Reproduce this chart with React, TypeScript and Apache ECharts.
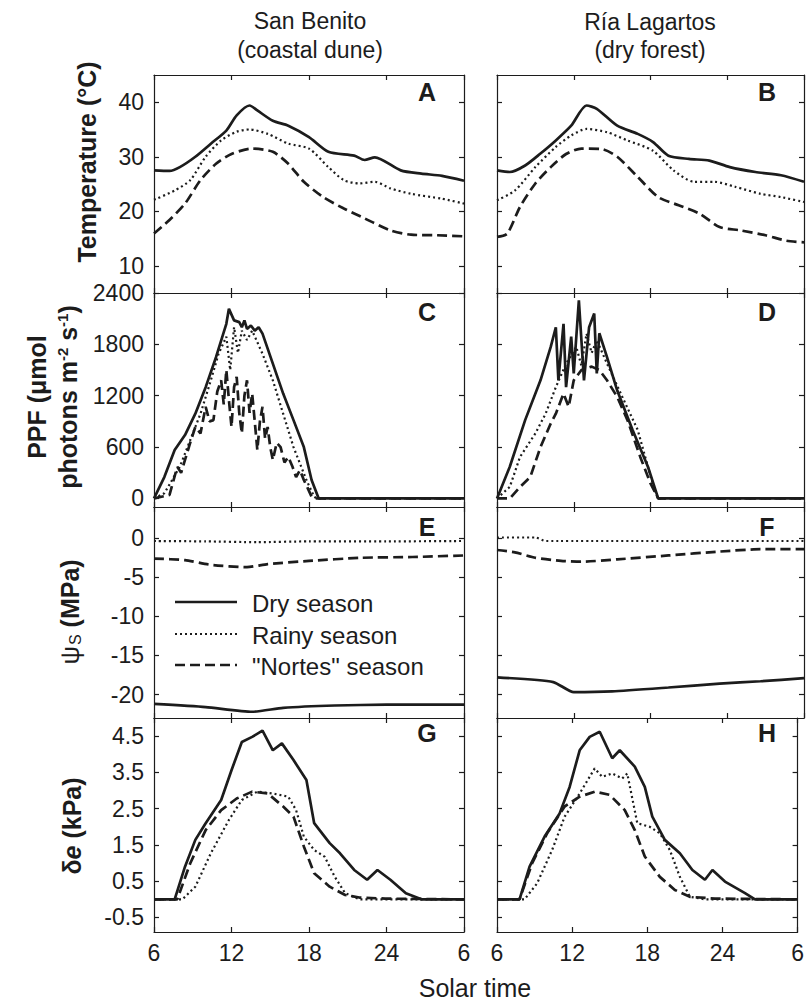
import React, { useEffect, useRef } from "react";
import * as echarts from "echarts";

const FONT = "'Liberation Sans', Arial, Helvetica, sans-serif";
const INK = "#1c1c1c";

const xTicks = [6, 12, 18, 24, 30];
const tempTicks = [10, 20, 30, 40];
const ppfTicks = [0, 600, 1200, 1800, 2400];
const psiTicks = [-20, -15, -10, -5, 0];
const vpdTicks = [-0.5, 0.5, 1.5, 2.5, 3.5, 4.5];

const seasons = ["Dry season", "Rainy season", "\"Nortes\" season"];

// Air temperature (°C) — San Benito
const tempDrySB = [[6,27.5],[7.2,27.4],[8,28.1],[9.2,30],[10.4,32.4],[11.6,34.8],[12.4,37.6],[13.4,39.4],[14,38.5],[15.2,36.6],[16.4,35.7],[18,33.6],[19.5,30.9],[21.5,30.2],[22.3,29.4],[23.1,29.9],[25.1,27.5],[26.7,26.9],[28.3,26.5],[30,25.6]];
const tempRainySB = [[6,22.1],[7.6,23.8],[8.8,25.7],[10,30],[11.2,33],[12.4,34.6],[13.4,35],[14.8,34.2],[16.4,32.4],[18,31.5],[19.5,28.1],[20.7,25.7],[21.9,25.1],[23.1,25.4],[24.3,24.2],[25.9,23.2],[28.3,22.3],[30,21.4]];
const tempNortesSB = [[6,15.9],[7.2,18.4],[8.4,21.4],[9.6,25.7],[10.8,28.7],[12,30.5],[13.6,31.5],[15.2,30.9],[16.4,28.7],[17.6,25.4],[19.1,22.6],[20.7,20.5],[22.3,18.7],[24.3,16.5],[25.9,15.7],[27.9,15.6],[30,15.4]];
// Air temperature (°C) — Ría Lagartos
const tempDryRL = [[6,27.5],[7,27.2],[8.2,28.4],[9.4,30.6],[10.6,33],[11.8,35.7],[13,39.4],[13.8,38.8],[15.4,35.7],[17,34.2],[18.2,32.7],[19.4,30.2],[21,29.6],[22.6,29.3],[24.2,28.1],[26.2,27.2],[28.2,26.6],[30,25.4]];
const tempRainyRL = [[6,22],[7.4,23.8],[9,28.1],[10.6,31.8],[11.8,33.9],[13,35.1],[14.6,34.5],[16.2,33],[18.2,31.1],[19.8,27.5],[21.4,25.4],[23,25.4],[24.6,24.5],[26.6,23.2],[28.2,22.6],[30,21.7]];
const tempNortesRL = [[6,15.3],[6.8,15.9],[7.8,20.8],[9,25.1],[10.2,28.1],[11.4,30.5],[12.6,31.5],[14.2,31.4],[15.4,30],[17,26.3],[18.6,22.6],[20.2,21.1],[21.8,19.6],[23.4,17.1],[25,16.5],[27,15.6],[28.6,14.6],[30,14.3]];

// PPF (µmol photons m-2 s-1) — San Benito
const ppfDrySB = [[6,0],[6.8,250],[7.6,565],[8.4,740],[9.2,990],[10,1300],[10.8,1650],[11.6,2040],[11.8,2215],[12.2,2080],[12.6,2060],[12.8,2000],[13,2080],[13.2,1980],[13.5,2020],[13.8,1960],[14.1,2000],[14.4,1925],[15.2,1575],[16,1225],[16.8,915],[17.6,600],[18.2,215],[18.75,0],[30,0]];
const ppfRainySB = [[6,0],[6.8,60],[8,370],[8.8,680],[9.6,990],[10.4,1380],[11,1690],[11.6,1890],[11.9,1500],[12.2,2000],[12.5,1700],[12.8,1960],[13.2,1850],[13.6,1960],[14.4,1690],[15.2,1380],[16,990],[16.8,600],[17.8,215],[18.4,20],[18.6,0],[30,0]];
const ppfNortesSB = [[6,0],[7.2,40],[7.8,370],[8.1,300],[8.4,450],[8.8,650],[9.2,835],[9.6,760],[10,1070],[10.3,900],[10.6,915],[10.9,1250],[11.2,1380],[11.4,1100],[11.6,1500],[11.8,1150],[12,835],[12.2,1300],[12.4,1420],[12.6,1000],[12.8,760],[13,1200],[13.2,1380],[13.4,1000],[13.6,1225],[13.8,900],[14,565],[14.2,900],[14.4,1070],[14.6,700],[14.8,835],[15,600],[15.2,450],[15.5,650],[15.8,600],[16.1,420],[16.4,485],[16.7,380],[17,250],[17.3,330],[17.6,215],[17.9,120],[18.2,20],[18.6,0],[30,0]];
// PPF — Ría Lagartos
const ppfDryRL = [[6,0],[7,370],[8.2,915],[9.4,1380],[10.2,1770],[10.6,2000],[10.8,1380],[11.2,2040],[11.4,1300],[11.8,1890],[12,1460],[12.4,2315],[12.8,1380],[13.2,2000],[13.6,2160],[13.8,1460],[14,1930],[14.6,1650],[15.4,1260],[16.6,800],[17.8,370],[18.6,0],[30,0]];
const ppfRainyRL = [[6,0],[7,135],[7.8,485],[9,760],[9.8,990],[10.6,1300],[11.4,1575],[12.2,1770],[12.6,1550],[13,1925],[13.4,1700],[13.8,1850],[14.6,1575],[15.8,1185],[17,800],[17.8,370],[18.4,60],[18.6,0],[30,0]];
const ppfNortesRL = [[6,0],[7,0],[7.8,135],[8.6,250],[9.4,600],[10.2,875],[10.6,990],[11.2,1225],[11.6,1070],[12,1380],[12.6,1500],[13.4,1540],[14,1500],[14.6,1380],[15.4,1185],[16.2,915],[17.2,485],[18,175],[18.6,0],[30,0]];

// Soil water potential (MPa) — San Benito
const psiDrySB = [[6,-21.2],[10,-21.6],[13.6,-22.2],[16,-21.7],[20,-21.4],[24,-21.3],[30,-21.3]];
const psiRainySB = [[6,-0.35],[10,-0.4],[14,-0.5],[18,-0.4],[24,-0.4],[30,-0.35]];
const psiNortesSB = [[6,-2.6],[8.4,-2.8],[10.4,-3.4],[13.2,-3.7],[14.8,-3.3],[18,-2.9],[22,-2.5],[26,-2.4],[30,-2.2]];
// Soil water potential (MPa) — Ría Lagartos
const psiDryRL = [[6,-17.8],[10.4,-18.4],[12,-19.7],[15,-19.6],[19.4,-19.1],[23.4,-18.6],[26.6,-18.3],[30,-17.9]];
const psiRainyRL = [[6,0.1],[9,0.1],[9.8,-0.35],[30,-0.35]];
const psiNortesRL = [[6,-1.5],[7.4,-1.8],[9,-2.5],[11,-2.9],[12.6,-3],[15.4,-2.7],[19.4,-2.2],[23.4,-1.7],[26.6,-1.4],[30,-1.4]];

// Vapour pressure deficit (kPa) — San Benito
const vpdDrySB = [[6,0],[7.6,0],[8.4,0.9],[9.2,1.64],[10,2.1],[11.2,2.74],[12,3.56],[12.8,4.34],[13.6,4.48],[14.4,4.65],[15.2,4.11],[15.9,4.3],[16.8,3.84],[17.8,3.29],[18.4,2.1],[19.6,1.55],[20.4,1.27],[21.5,0.81],[22.5,0.54],[23.3,0.81],[24.3,0.54],[25.5,0.17],[26.7,0],[30,0]];
const vpdRainySB = [[6,0],[8.2,0],[9.2,0.35],[10.4,1.27],[11.8,2.19],[12.8,2.74],[14,2.97],[15.2,2.92],[16.4,2.83],[17,2.46],[17.6,1.73],[18.4,1.36],[19.2,1.18],[20,0.62],[20.8,0.17],[21.9,0],[30,0]];
const vpdNortesSB = [[6,0],[7.8,0],[8.8,0.99],[10,1.91],[11.2,2.46],[12.4,2.78],[13.6,2.97],[14.8,2.92],[16,2.56],[16.8,2.28],[17.6,1.46],[18.4,0.72],[19.6,0.35],[20.8,0.12],[21.9,0.05],[23.9,0.02],[30,0]];
// Vapour pressure deficit (kPa) — Ría Lagartos
const vpdDryRL = [[6,0],[7.8,0],[8.6,0.9],[9.8,1.73],[11,2.37],[11.8,3.1],[12.6,4.11],[13.4,4.48],[14.2,4.62],[15.2,3.89],[15.8,4.11],[17,3.66],[17.8,3.1],[18.4,2.28],[19.4,1.64],[20.6,1.27],[21.6,0.81],[22.6,0.54],[23.2,0.81],[24.2,0.49],[25.8,0.17],[26.6,0],[30,0]];
const vpdRainyRL = [[6,0],[8.2,0],[9.2,0.44],[10.4,1.36],[11.4,2.28],[12.6,2.92],[13.8,3.61],[14.4,3.38],[15.2,3.47],[16,3.33],[16.4,3.47],[17.2,2.1],[18.2,2.0],[19,1.82],[19.8,1.36],[20.6,0.62],[21.4,0.07],[22.6,0],[30,0]];
const vpdNortesRL = [[6,0],[7.8,0],[8.8,0.99],[10,1.82],[11.4,2.56],[12.6,2.83],[13.8,2.97],[15,2.88],[16.2,2.46],[17,1.91],[17.8,1.18],[19,0.62],[20.2,0.26],[21.4,0.07],[23.4,0.02],[30,0]];

const panelData = [
  [[tempDrySB, tempRainySB, tempNortesSB], [tempDryRL, tempRainyRL, tempNortesRL]],
  [[ppfDrySB, ppfRainySB, ppfNortesSB], [ppfDryRL, ppfRainyRL, ppfNortesRL]],
  [[psiDrySB, psiRainySB, psiNortesSB], [psiDryRL, psiRainyRL, psiNortesRL]],
  [[vpdDrySB, vpdRainySB, vpdNortesSB], [vpdDryRL, vpdRainyRL, vpdNortesRL]],
];

const cols = [{ left: 154, width: 310 }, { left: 497, width: 307 }];
const rows = [
  { top: 75, height: 218 },
  { top: 293, height: 214 },
  { top: 507, height: 211 },
  { top: 718, height: 214 },
];
const yCfg = [
  { min: 5, max: 45, ticks: tempTicks },
  { min: -100, max: 2400, ticks: ppfTicks },
  { min: -23, max: 4, ticks: psiTicks },
  { min: -0.9, max: 5.0, ticks: vpdTicks },
];
const letters = [["A", "B"], ["C", "D"], ["E", "F"], ["G", "H"]];
const smoothness = [0.25, 0, 0.2, 0];
const lineStyles = [
  { type: "solid", width: 2.7 },
  { type: [2, 3], width: 2.2 },
  { type: [10, 5], width: 2.7 },
];
const legendDash = [null, [2, 3], [10, 5]];

function buildOption() {
  const grid: any[] = [];
  const xAxis: any[] = [];
  const yAxis: any[] = [];
  const series: any[] = [];
  const graphic: any[] = [];
  const axisLine = { show: true, onZero: false, lineStyle: { color: INK, width: 1.2 } };
  const tickStyle = { color: INK, width: 1.2 };
  const labelBase = { fontFamily: FONT, fontSize: 23, color: INK };

  rows.forEach((row, r) => {
    cols.forEach((col, c) => {
      const gi = grid.length;
      grid.push({ left: col.left, top: row.top, width: col.width, height: row.height });
      const xBase = {
        gridIndex: gi, type: "value", min: 6, max: 30,
        axisLine, splitLine: { show: false },
        axisTick: { show: true, inside: true, length: 5, customValues: xTicks, lineStyle: tickStyle },
      };
      xAxis.push({
        ...xBase, position: "bottom",
        axisLabel: {
          show: r === 3, customValues: xTicks, margin: 9, ...labelBase,
          formatter: (v: number) => String(v > 24 ? v - 24 : v),
        },
      });
      xAxis.push({ ...xBase, position: "top", axisLabel: { show: false } });
      const yc = yCfg[r];
      const yBase = {
        gridIndex: gi, type: "value", min: yc.min, max: yc.max,
        axisLine, splitLine: { show: false },
        axisTick: { show: true, inside: true, length: 5, customValues: yc.ticks, lineStyle: tickStyle },
      };
      yAxis.push({
        ...yBase, position: "left",
        axisLabel: {
          show: c === 0, customValues: yc.ticks, margin: 10, ...labelBase,
          formatter: (v: number) => String(v),
        },
      });
      yAxis.push({ ...yBase, position: "right", axisLabel: { show: false } });

      panelData[r][c].forEach((data, s) => {
        series.push({
          type: "line", name: seasons[s], data,
          xAxisIndex: gi * 2, yAxisIndex: gi * 2,
          symbol: "none", showSymbol: false, smooth: smoothness[r],
          lineStyle: { color: INK, ...lineStyles[s] },
          itemStyle: { color: INK },
          emphasis: { disabled: true }, silent: true, z: 3,
        });
      });

      graphic.push({
        type: "text", x: col.left + col.width - 37, y: row.top + (r === 0 ? 17 : r === 1 ? 19 : r === 2 ? 20 : 15),
        style: { text: letters[r][c], font: `bold 25px ${FONT}`, fill: INK, align: "center", verticalAlign: "middle" },
      });
    });
  });

  // legend (inside panel E)
  const legendY = [602, 634, 665];
  seasons.forEach((name, s) => {
    graphic.push({
      type: "line",
      shape: { x1: 175, y1: legendY[s], x2: 237, y2: legendY[s] },
      style: { stroke: INK, lineWidth: lineStyles[s].width, lineDash: legendDash[s] || undefined },
      z: 10,
    });
    graphic.push({
      type: "text", x: 252, y: legendY[s] + 1,
      style: { text: name, font: `24px ${FONT}`, fill: INK, align: "left", verticalAlign: "middle" },
      z: 10,
    });
  });

  const titleFont = `23px ${FONT}`;
  graphic.push(
    { type: "text", x: 310, y: 21, style: { text: "San Benito", font: titleFont, fill: INK, align: "center", verticalAlign: "middle" } },
    { type: "text", x: 310, y: 50, style: { text: "(coastal dune)", font: titleFont, fill: INK, align: "center", verticalAlign: "middle" } },
    { type: "text", x: 650, y: 22, style: { text: "Ría Lagartos", font: titleFont, fill: INK, align: "center", verticalAlign: "middle" } },
    { type: "text", x: 650, y: 50, style: { text: "(dry forest)", font: titleFont, fill: INK, align: "center", verticalAlign: "middle" } },
    { type: "text", x: 475, y: 988, style: { text: "Solar time", font: `25px ${FONT}`, fill: INK, align: "center", verticalAlign: "middle" } }
  );

  const yt = `bold 25px ${FONT}`;
  const rot = Math.PI / 2;
  graphic.push(
    { type: "text", x: 87, y: 162, rotation: rot, style: { text: "Temperature (°C)", font: yt, fill: INK, align: "center", verticalAlign: "middle" } },
    { type: "text", x: 37, y: 397, rotation: rot, style: { text: "PPF (μmol", font: yt, fill: INK, align: "center", verticalAlign: "middle" } },
    {
      type: "text", x: 68, y: 397, rotation: rot,
      style: {
        text: "photons m{sup|-2} s{sup|-1})", font: yt, fill: INK, align: "center", verticalAlign: "middle",
        rich: { sup: { font: `bold 15px ${FONT}`, fill: INK, verticalAlign: "top", padding: [0, 0, 12, 0] } },
      },
    },
    {
      type: "text", x: 70, y: 612, rotation: rot,
      style: {
        text: "{g|ψ}{sub|S} (MPa)", font: yt, fill: INK, align: "center", verticalAlign: "middle",
        rich: {
          g: { font: `26px ${FONT}`, fill: INK },
          sub: { font: `16px ${FONT}`, fill: INK, padding: [10, 0, 0, 1] },
        },
      },
    },
    {
      type: "text", x: 72, y: 826, rotation: rot,
      style: {
        text: "{d|δ}{e|e} (kPa)", font: yt, fill: INK, align: "center", verticalAlign: "middle",
        rich: {
          d: { font: `bold 25px ${FONT}`, fill: INK },
          e: { font: `italic bold 25px ${FONT}`, fill: INK },
        },
      },
    }
  );

  return {
    animation: false,
    backgroundColor: "#ffffff",
    grid, xAxis, yAxis, series, graphic,
  };
}

export default function App() {
  const ref = useRef<HTMLDivElement>(null);
  useEffect(() => {
    if (!ref.current) return;
    const chart = echarts.init(ref.current, null, { renderer: "svg" });
    chart.setOption(buildOption() as any);
    return () => chart.dispose();
  }, []);
  return (
    <div
      ref={ref}
      style={{ position: "absolute", left: 0, top: 0, width: 807, height: 1002, background: "#fff" }}
    />
  );
}
